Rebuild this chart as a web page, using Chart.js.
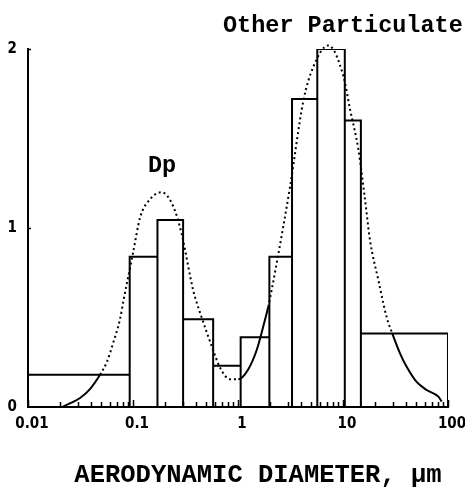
<!DOCTYPE html>
<html>
<head>
<meta charset="utf-8">
<script src="https://cdn.jsdelivr.net/npm/chart.js@4/dist/chart.umd.min.js"></script>
<style>
  html, body { margin: 0; padding: 0; background: #fff; }
  canvas { display: block; }
</style>
</head>
<body>
<canvas id="chart-psd" width="465" height="487"></canvas>
<script>
// size distribution
const majorTicks = [0.01, 0.1, 1, 10, 100];
const yTicks = [0, 1, 2];
const binEdges = [0.01, 0.093, 0.171, 0.30, 0.58, 1.06, 1.99, 3.27, 5.69, 10.4, 14.8, 100];
const binHeights = [0.18, 0.84, 1.045, 0.49, 0.23, 0.39, 0.84, 1.72, 2.0, 1.60, 0.41];
const fitX = [0.021, 0.0251, 0.0313, 0.0389, 0.0485, 0.0562, 0.0649, 0.0752, 0.0809, 0.10, 0.117, 0.145, 0.187, 0.242, 0.29, 0.375, 0.451, 0.562, 0.674, 0.839, 1.007, 1.25, 1.51, 1.74, 1.94, 2.33, 3.13, 4.19, 5.21, 7.24, 10.07, 11.7, 14.0, 16.2, 18.1, 21.7, 26.1, 29.5, 34.9, 40.4, 50.3, 62.7, 80.9, 87];
const fitY = [0.0, 0.02, 0.05, 0.10, 0.18, 0.25, 0.36, 0.49, 0.59, 0.86, 1.06, 1.16, 1.20, 1.12, 0.97, 0.65, 0.50, 0.34, 0.22, 0.155, 0.155, 0.21, 0.32, 0.45, 0.56, 0.80, 1.23, 1.71, 1.90, 2.02, 1.85, 1.66, 1.44, 1.16, 0.93, 0.71, 0.50, 0.41, 0.30, 0.225, 0.14, 0.095, 0.058, 0.03];

const textFont = '"Liberation Mono", "DejaVu Sans Mono", monospace';
const tickFont = { family: '"DejaVu Sans Condensed", "DejaVu Sans", sans-serif', size: 15, weight: 'bold' };

// each bin as a closed box so every edge reaches the baseline
const outline = [];
binHeights.forEach((h, i) => {
    outline.push({ x: binEdges[i], y: 0 }, { x: binEdges[i], y: h },
                 { x: binEdges[i + 1], y: h }, { x: binEdges[i + 1], y: 0 });
});
const fit = fitX.map((x, i) => ({ x: x, y: fitY[i] }));

// the plotter trace merges into a solid line where it is flat
const solidPart = x => x < 0.045 || (x >= 1.0 && x < 1.94) || x >= 29;

const decorations = {
    id: 'decorations',
    afterDraw(chart) {
        const c = chart.ctx;
        const xs = chart.scales.x;
        const ys = chart.scales.y;
        const base = ys.getPixelForValue(0);
        c.save();
        c.strokeStyle = '#000';
        c.lineWidth = 1.5;
        c.beginPath();
        for (let d = 0; d < majorTicks.length - 1; d++) {
            for (let k = 2; k <= 9; k++) {
                const px = Math.round(xs.getPixelForValue(majorTicks[d] * k)) + 0.5;
                c.moveTo(px, base);
                c.lineTo(px, base - 5);
            }
        }
        majorTicks.forEach(v => {
            const px = Math.round(xs.getPixelForValue(v)) + 0.5;
            c.moveTo(px, base);
            c.lineTo(px, base - 7);
        });
        yTicks.slice(1).forEach(v => {
            const py = Math.round(ys.getPixelForValue(v)) + 0.5;
            c.moveTo(xs.left, py);
            c.lineTo(xs.left + 3, py);
        });
        c.stroke();

        c.fillStyle = '#000';
        c.textBaseline = 'alphabetic';
        c.textAlign = 'left';
        c.font = 'bold 23.5px ' + textFont;
        c.fillText('Other Particulate', 223, 32);
        c.fillText('Dp', 148, 172);
        c.textAlign = 'center';
        c.font = 'bold 25.5px ' + textFont;
        c.fillText('AERODYNAMIC DIAMETER, \u00b5m', 258, 482);
        c.restore();
    }
};

new Chart(document.getElementById('chart-psd'), {
    type: 'line',
    data: {
        datasets: [
            {
                label: 'Measured',
                data: outline,
                borderColor: '#000',
                borderWidth: 2,
                borderJoinStyle: 'miter',
                pointRadius: 0,
                tension: 0,
                fill: false,
            },
            {
                label: 'Fit',
                data: fit,
                borderColor: '#000',
                borderWidth: 2,
                borderDash: [2, 3],
                pointRadius: 0,
                cubicInterpolationMode: 'monotone',
                fill: false,
                clip: 8,
                segment: {
                    borderDash: ctx => solidPart(ctx.p0.parsed.x) ? [] : [2, 3],
                },
            },
        ],
    },
    options: {
        responsive: false,
        animation: false,
        devicePixelRatio: 1,
        layout: { padding: { top: 49, right: 17, left: 0, bottom: 0 } },
        scales: {
            x: {
                type: 'logarithmic',
                min: 0.01,
                max: 100,
                afterBuildTicks: s => { s.ticks = majorTicks.map(v => ({ value: v })); },
                afterFit: s => { s.height = 80; s.paddingLeft = 0; s.paddingRight = 0; },
                grid: { display: false, drawTicks: false },
                border: { display: true, color: '#000', width: 2 },
                ticks: {
                    color: '#000', font: tickFont, padding: 8, labelOffset: 4,
                    autoSkip: false, maxRotation: 0,
                    callback: v => String(v),
                },
            },
            y: {
                min: 0,
                max: 2,
                afterBuildTicks: s => { s.ticks = yTicks.map(v => ({ value: v })); },
                afterFit: s => { s.width = 28; },
                grid: { display: false, drawTicks: false },
                border: { display: true, color: '#000', width: 2 },
                ticks: { color: '#000', font: tickFont, padding: 11 },
            },
        },
        plugins: {
            legend: { display: false },
            tooltip: { enabled: false },
        },
    },
    plugins: [decorations],
});
</script>
</body>
</html>
